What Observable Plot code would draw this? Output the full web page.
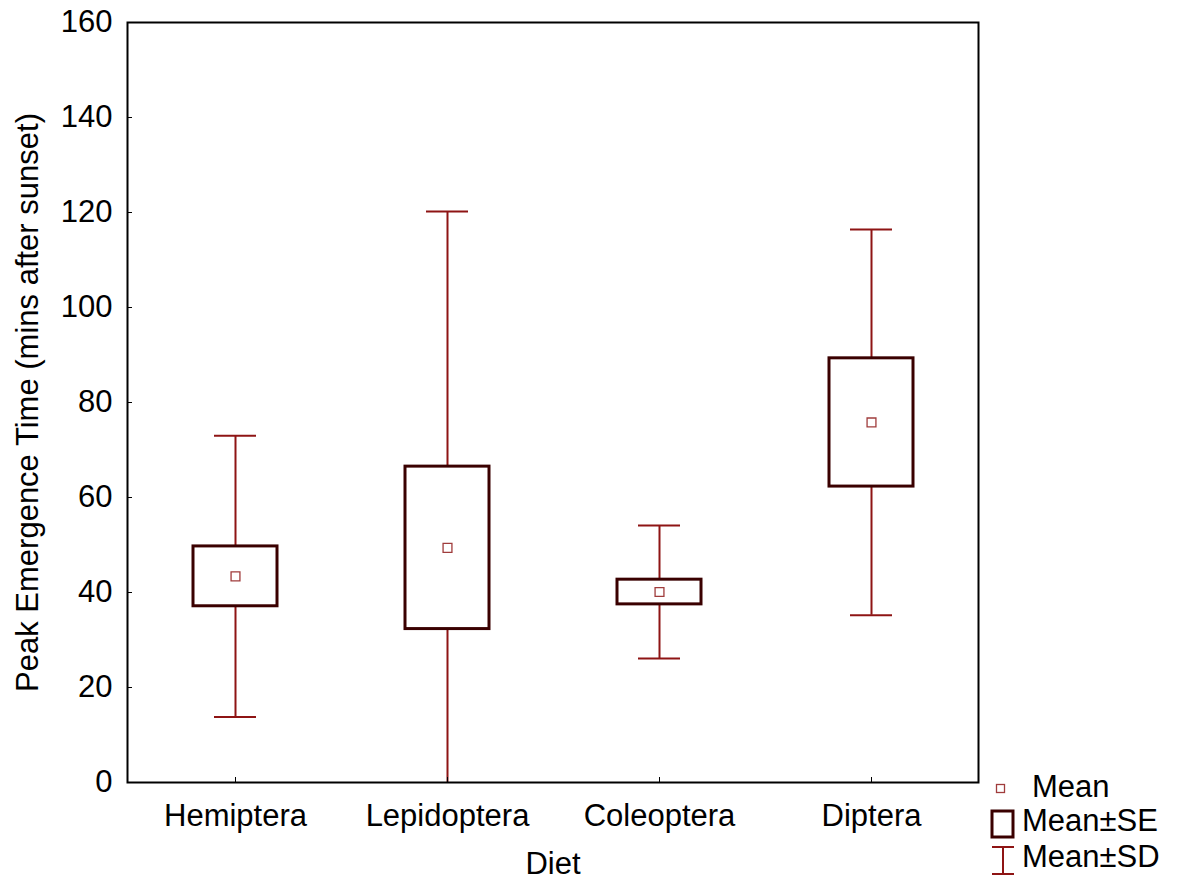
<!DOCTYPE html>
<html>
<head>
<meta charset="utf-8">
<script src="https://cdn.jsdelivr.net/npm/d3@7"></script>
<script src="https://cdn.jsdelivr.net/npm/@observablehq/plot@0.6"></script>
<style>
  html, body { margin: 0; padding: 0; background: #fff; }
  #wrap { position: relative; width: 1178px; height: 879px; font-family: "Liberation Sans", Arial, sans-serif; }
  .leg { position: absolute; font-size: 31px; line-height: 1; color: #000; white-space: nowrap; }
  .ico { position: absolute; }
</style>
</head>
<body>
<div id="wrap"></div>
<script>
const diets = ["Hemiptera", "Lepidoptera", "Coleoptera", "Diptera"];
const means = [43.4, 49.4, 40.1, 75.8];
const se    = [6.3, 17.1, 2.6, 13.5];
const sd    = [29.6, 70.8, 14.0, 40.6];
const yTicks = [0, 20, 40, 60, 80, 100, 120, 140, 160];

const boxColor = "#3a0000";
const whiskerColor = "#8e1414";
const meanColor = "#a03c3c";

const data = diets.map((d, i) => ({diet: d, mean: means[i], se: se[i], sd: sd[i]}));

const chart = Plot.plot({
  width: 1178,
  height: 879,
  marginLeft: 127,
  marginRight: 200,
  marginTop: 22,
  marginBottom: 97,
  style: {fontFamily: "'Liberation Sans', Arial, sans-serif", fontSize: "31px", background: "white", color: "black"},
  x: {domain: diets, padding: 0},
  y: {domain: [0, 160]},
  marks: [
    Plot.ruleX(data, {x: "diet", y1: d => d.mean - d.sd, y2: d => d.mean + d.sd, stroke: whiskerColor, strokeWidth: 2, clip: true}),
    Plot.tickY(data, {x: "diet", y: d => d.mean + d.sd, insetLeft: 85, insetRight: 85, stroke: whiskerColor, strokeWidth: 2, clip: true}),
    Plot.tickY(data, {x: "diet", y: d => d.mean - d.sd, insetLeft: 85, insetRight: 85, stroke: whiskerColor, strokeWidth: 2, clip: true}),
    Plot.barY(data, {x: "diet", y1: d => d.mean - d.se, y2: d => d.mean + d.se, insetLeft: 64, insetRight: 64, fill: "white", stroke: boxColor, strokeWidth: 3}),
    Plot.dot(data, {x: "diet", y: "mean", symbol: "square", r: 5, fill: "white", stroke: meanColor, strokeWidth: 1.3}),
    Plot.axisX({anchor: "bottom", tickSize: -5, tickPadding: 26, stroke: "black", label: "Diet", labelAnchor: "center", labelOffset: 91, labelArrow: "none"}),
    Plot.axisY({anchor: "left", ticks: yTicks, tickSize: -5, tickPadding: 20, stroke: "black", label: "Peak Emergence Time (mins after sunset)", labelAnchor: "center", labelOffset: 112, labelArrow: "none"}),
    Plot.frame({stroke: "black", strokeWidth: 2})
  ]
});

const wrap = document.getElementById("wrap");
wrap.appendChild(chart);

// Legend (HTML overlay, bottom-right)
const legendItems = [
  {label: "Mean", icon: `<svg width="12" height="12"><rect x="1.5" y="1.5" width="8" height="8" fill="white" stroke="${meanColor}" stroke-width="1.3"/></svg>`, ix: 995, iy: 781, tx: 1032, ty: 777},
  {label: "Mean±SE", icon: `<svg width="28" height="32"><rect x="2" y="2" width="21" height="26" fill="white" stroke="${boxColor}" stroke-width="3"/></svg>`, ix: 990, iy: 809, tx: 1022, ty: 811},
  {label: "Mean±SD", icon: `<svg width="28" height="32"><line x1="2" y1="2" x2="24" y2="2" stroke="${whiskerColor}" stroke-width="2"/><line x1="13" y1="2" x2="13" y2="29" stroke="${whiskerColor}" stroke-width="2"/><line x1="2" y1="29" x2="24" y2="29" stroke="${whiskerColor}" stroke-width="2"/></svg>`, ix: 990, iy: 845, tx: 1022, ty: 847}
];
for (const it of legendItems) {
  const ico = document.createElement("div");
  ico.className = "ico";
  ico.style.left = it.ix + "px";
  ico.style.top = it.iy + "px";
  ico.innerHTML = it.icon;
  wrap.appendChild(ico);
  const t = document.createElement("div");
  t.className = "leg";
  t.style.left = it.tx + "px";
  t.style.top = (it.ty - 6) + "px";
  t.textContent = it.label;
  wrap.appendChild(t);
}
</script>
</body>
</html>
